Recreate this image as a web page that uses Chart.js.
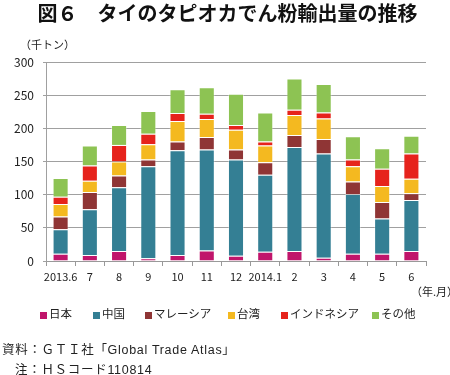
<!DOCTYPE html>
<html><head><meta charset="utf-8">
<script src="https://cdn.jsdelivr.net/npm/chart.js@4/dist/chart.umd.min.js"></script>
<style>
html,body{margin:0;padding:0;background:#fff;}
#wrap{position:relative;width:450px;height:375px;overflow:hidden;font-family:"Noto Sans CJK JP","Noto Sans",sans-serif;color:#222;}
canvas{position:absolute;left:0;top:0;}
.t{position:absolute;white-space:nowrap;line-height:1;}
#title{left:0;width:455px;text-align:center;top:3px;font-size:20px;font-weight:bold;color:#111;}
#unit{left:20px;top:39px;font-size:11px;}
#ym{left:411px;top:286px;font-size:11px;}
.lg{position:absolute;top:308px;font-size:11.5px;line-height:1;white-space:nowrap;}
.sq{position:absolute;width:7px;height:7px;top:4px;left:0;}
.lg span.tx{position:absolute;left:9px;top:0;}
#src1{left:2px;top:344px;font-size:12.5px;letter-spacing:0.7px;font-family:"Liberation Sans","Noto Sans CJK JP",sans-serif;}
#src2{left:15px;top:364px;font-size:12.5px;letter-spacing:0.7px;font-family:"Liberation Sans","Noto Sans CJK JP",sans-serif;}
</style></head>
<body><div id="wrap">
<canvas id="c" width="450" height="375"></canvas>
<div class="t" id="title">図６　タイのタピオカでん粉輸出量の推移</div>
<div class="t" id="unit">（千トン）</div>
<div class="t" id="ym">（年.月）</div>
<div id="legend"></div>
<div class="t" id="src1">資料：ＧＴＩ社「Global Trade Atlas」</div>
<div class="t" id="src2">注：ＨＳコード110814</div>
</div>
<script>
const categories = ["2013.6","7","8","9","10","11","12","2014.1","2","3","4","5","6"];
const seriesNames = ["日本","中国","マレーシア","台湾","インドネシア","その他"];
const japan     = [11, 9, 15, 4, 9, 16, 8, 14, 15, 5, 11, 11, 15];
const china     = [37, 69, 96, 139, 158, 152, 145, 116, 157, 157, 90, 53, 77];
const malaysia  = [19, 26, 18, 10, 13, 19, 15, 19, 18, 22, 19, 25, 10];
const taiwan    = [19, 17, 21, 23, 31, 27, 30, 25, 30, 31, 23, 24, 22];
const indonesia = [11, 23, 25, 16, 12, 8, 7, 6, 8, 9, 10, 26, 38];
const others    = [28, 30, 30, 34, 36, 40, 47, 44, 47, 43, 35, 31, 27];
const yTicks = [0, 50, 100, 150, 200, 250, 300];

const colors = ["#C0156B","#347F94","#8F3535","#F4B920","#E6231C","#8DC353"];
const values = [japan, china, malaysia, taiwan, indonesia, others];
const legendX = [40, 93, 145, 228, 281, 372];

const lg = document.getElementById('legend');
seriesNames.forEach((n,i)=>{
  const d=document.createElement('div');d.className='lg';d.style.left=legendX[i]+'px';
  d.innerHTML='<div class="sq" style="background:'+colors[i]+'"></div><span class="tx">'+n+'</span>';
  lg.appendChild(d);
});

const font = {family:'"Noto Sans CJK JP","Noto Sans",sans-serif', size:11};
new Chart(document.getElementById('c'), {
  type:'bar',
  data:{labels:categories, datasets: values.map((v,i)=>({
    label:seriesNames[i], data:v, backgroundColor:colors[i],
    borderColor:'rgba(255,255,255,0.35)', borderWidth:1,
    barPercentage:0.55, categoryPercentage:1
  }))},
  options:{
    responsive:false, animation:false,
    layout:{padding:{top:62,left:0,right:24,bottom:0}},
    plugins:{legend:{display:false},title:{display:false},tooltip:{enabled:false}},
    scales:{
      x:{stacked:true,
        grid:{offset:true,drawOnChartArea:false,drawTicks:true,tickLength:5,color:'#999'},
        border:{color:'#999',width:1},
        ticks:{font:font,color:'#222',padding:4,maxRotation:0,autoSkip:false},
        afterFit:(s)=>{s.height=114;}
      },
      y:{stacked:true,min:0,max:300,
        afterBuildTicks:(s)=>{s.ticks=yTicks.map(v=>({value:v}));},
        grid:{color:'#a0a0a0',lineWidth:1,tickLength:3},
        border:{color:'#a0a0a0',width:1},
        ticks:{font:{family:font.family,size:12},color:'#222',padding:9},
        afterFit:(s)=>{s.width=46;}
      }
    }
  }
});
</script>
</body></html>
